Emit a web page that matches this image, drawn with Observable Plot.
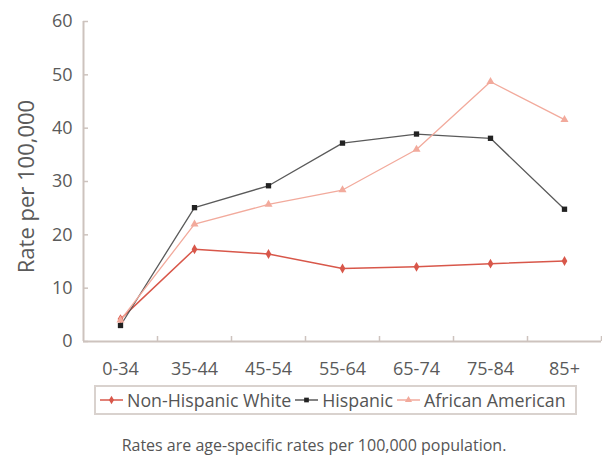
<!DOCTYPE html>
<html>
<head>
<meta charset="utf-8">
<script src="https://cdn.jsdelivr.net/npm/d3@7"></script>
<script src="https://cdn.jsdelivr.net/npm/@observablehq/plot@0.6"></script>
<style>
  html, body { margin: 0; padding: 0; background: #fff; }
  body { width: 602px; height: 456px; position: relative; font-family: "Open Sans", sans-serif; overflow: hidden; }
  #chart { position: absolute; left: 0; top: 0; }
  #legend { position: absolute; left: 94px; top: 385px; width: 475px; height: 26px; border: 2px solid #d9d2ce;
    display: flex; align-items: center; padding-left: 4px; box-sizing: content-box; font-size: 17.8px; color: #555; white-space: nowrap; }
  #legend .item { display: flex; align-items: center; margin-right: 4px; }
  #legend svg { margin-right: 4px; }
  #caption { position: absolute; left: 0; width: 628px; top: 434px; text-align: center; font-size: 16px; color: #555; }
</style>
</head>
<body>
<div id="chart"></div>
<div id="legend"></div>
<div id="caption">Rates are age-specific rates per 100,000 population.</div>
<script>
const ageGroups = ["0-34", "35-44", "45-54", "55-64", "65-74", "75-84", "85+"];
const seriesNames = ["Non-Hispanic White", "Hispanic", "African American"];
const nonHispanicWhite = [4.2, 17.3, 16.4, 13.7, 14.0, 14.6, 15.1];
const hispanic = [3.0, 25.1, 29.2, 37.2, 38.9, 38.1, 24.8];
const africanAmerican = [4.0, 22.0, 25.7, 28.4, 36.0, 48.7, 41.6];
const yTicks = [0, 10, 20, 30, 40, 50, 60];

const seriesColors = ["#d8574a", "#5a5a5a", "#f2aa9c"];
const markerColors = ["#d8574a", "#222222", "#f2aa9c"];
const seriesSymbols = ["diamond", "square", "triangle"];

const seriesValues = [nonHispanicWhite, hispanic, africanAmerican];
const data = seriesNames.flatMap((s, si) =>
  ageGroups.map((g, i) => ({series: s, idx: i + 0.5, group: g, value: seriesValues[si][i]}))
);

const axisColor = "#cdc3be";
const textColor = "#5a5a5a";

const chart = Plot.plot({
  width: 602,
  height: 382,
  marginLeft: 83,
  marginRight: 1,
  marginTop: 21,
  marginBottom: 41,
  style: {fontFamily: "Open Sans, sans-serif", fontSize: "18px", color: textColor, background: "transparent"},
  x: {domain: [0, ageGroups.length]},
  y: {domain: [0, 60]},
  marks: [
    Plot.ruleY([0], {stroke: axisColor, strokeWidth: 2}),
    Plot.ruleX([0], {stroke: axisColor, strokeWidth: 2}),
    Plot.axisY({ticks: yTicks, tickSize: -5, tickFormat: () => "", stroke: axisColor, strokeWidth: 1.5, label: null}),
    Plot.axisY({ticks: yTicks, tickSize: 0, tickPadding: 11, label: "Rate per 100,000", labelAnchor: "center", labelOffset: 65, fill: textColor, fontSize: 18}),
    Plot.axisX({ticks: d3.range(1, ageGroups.length + 1), tickSize: -5, tickFormat: () => "", stroke: axisColor, strokeWidth: 1.5, label: null}),
    Plot.axisX({ticks: ageGroups.map((g, i) => i + 0.5), tickFormat: d => ageGroups[Math.round(d - 0.5)], tickSize: 0, tickPadding: 21, label: null, fill: textColor, fontSize: 18}),
    ...seriesNames.map((s, si) =>
      Plot.line(data.filter(d => d.series === s), {x: "idx", y: "value", stroke: seriesColors[si], strokeWidth: si === 0 ? 1.5 : 1.3})
    ),
    ...seriesNames.map((s, si) =>
      Plot.dot(data.filter(d => d.series === s), {x: "idx", y: "value", symbol: () => seriesSymbols[si], r: 3, fill: markerColors[si], stroke: "none"})
    )
  ]
});
chart.querySelectorAll('[aria-label="y-axis label"]').forEach(g => {
  g.setAttribute("font-size", "22");
  g.querySelectorAll("text").forEach(t => {
    t.textContent = t.textContent.replace(/[\u2191\u2192\u2193\u2190]/g, "").trim();
    const tr = t.getAttribute("transform") || "";
    t.setAttribute("transform", tr.replace(/translate\(([^,]+),([^)]+)\)/, (m, a, b) => `translate(${a},${+b + 5})`));
  });
});
document.getElementById("chart").appendChild(chart);

const legend = document.getElementById("legend");
seriesNames.forEach((s, si) => {
  const item = document.createElement("span");
  item.className = "item";
  const sym = d3.symbol(si === 0 ? d3.symbolDiamond : si === 1 ? d3.symbolSquare : d3.symbolTriangle, 22)();
  item.innerHTML = `<svg width="23" height="10"><line x1="0" x2="23" y1="5" y2="5" stroke="${seriesColors[si]}" stroke-width="1.5"/><path transform="translate(11.5,5)" d="${sym}" fill="${markerColors[si]}"/></svg><span>${s}</span>`;
  legend.appendChild(item);
});
</script>
</body>
</html>
